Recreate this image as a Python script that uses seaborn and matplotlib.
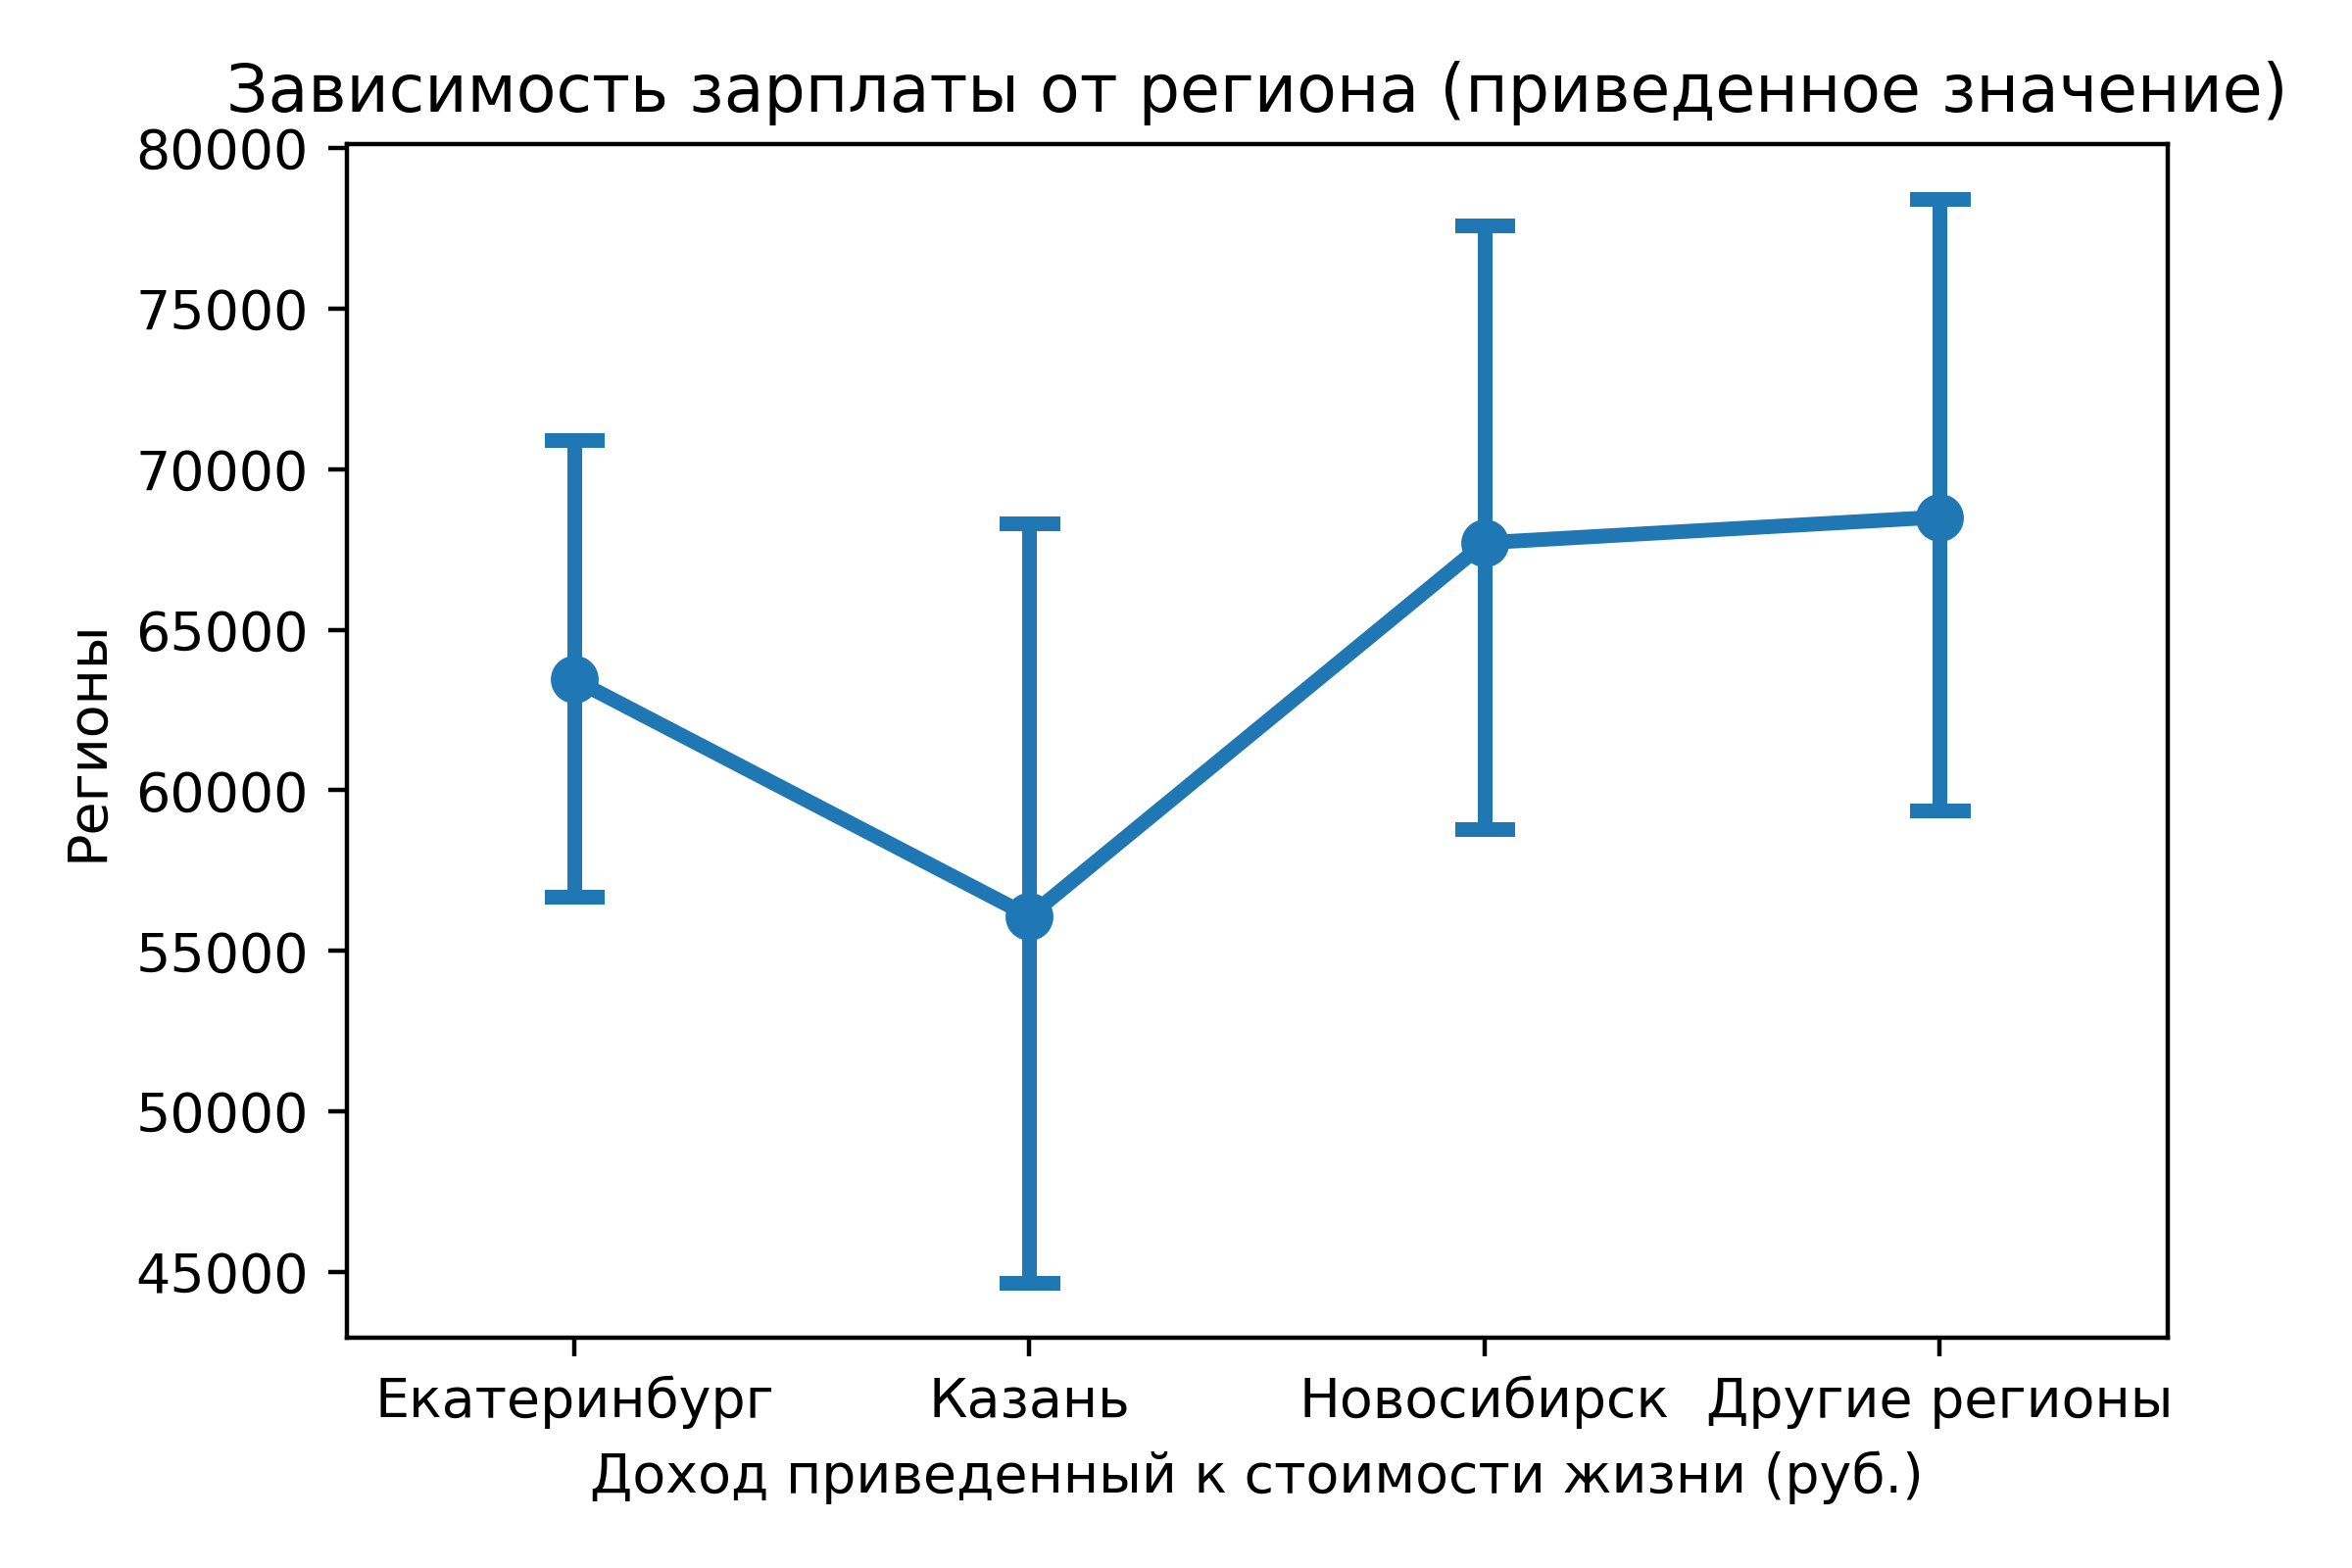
import numpy as np
import pandas as pd
import matplotlib
matplotlib.use("Agg")
import matplotlib.pyplot as plt
import seaborn as sns

regions = ["Екатеринбург", "Казань", "Новосибирск", "Другие регионы"]
mean_income = [63450, 56080, 67710, 68510]
ci_low = [56690, 44650, 58780, 59380]
ci_high = [70900, 68320, 77580, 78430]

title = "Зависимость зарплаты от региона (приведенное значение)"
xlabel = "Доход приведенный к стоимости жизни (руб.)"
ylabel = "Регионы"

# long-form table: low / centre / high per region; median -> centre, min/max -> interval
rows = []
for r, lo, m, hi in zip(regions, ci_low, mean_income, ci_high):
    for v in (lo, m, hi):
        rows.append({"region": r, "income": v})
df = pd.DataFrame(rows)

plt.rcParams["font.family"] = ["DejaVu Sans"]
fig, ax = plt.subplots(figsize=(6, 4), dpi=400)
sns.pointplot(
    data=df, x="region", y="income", order=regions,
    estimator="median",
    errorbar=lambda x: (np.min(x), np.max(x)),
    capsize=0.1, color="#1f77b4", ax=ax,
)
ax.set_title(title)
ax.set_xlabel(xlabel)
ax.set_ylabel(ylabel)
fig.subplots_adjust(left=0.1474, right=0.9215, top=0.908, bottom=0.147)
fig.savefig("out.png", dpi=400)
